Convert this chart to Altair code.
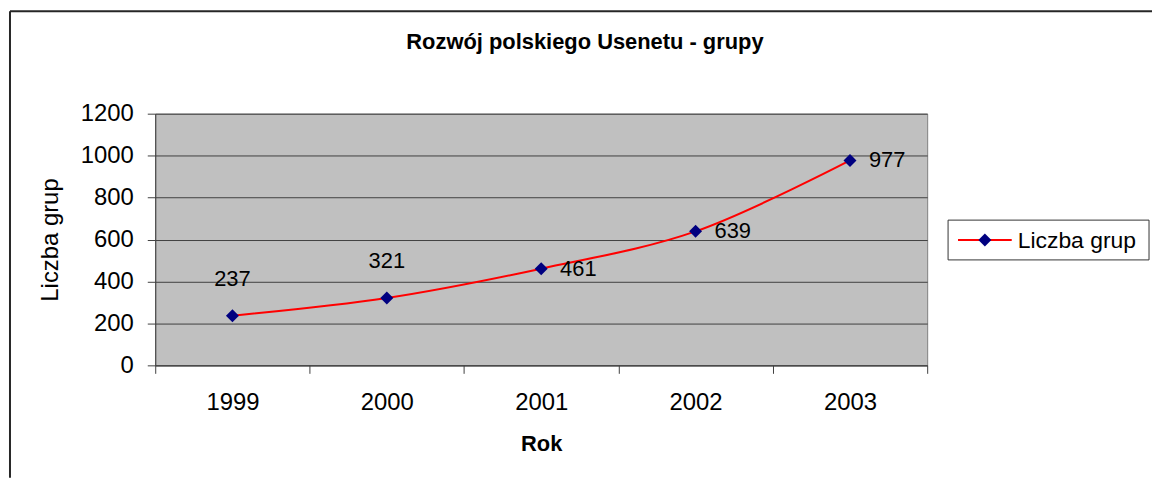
import altair as alt
import pandas as pd

# ---- data ----
years = ["1999", "2000", "2001", "2002", "2003"]
groups = [237, 321, 461, 639, 977]
series_name = "Liczba grup"
series = [series_name] * len(years)
y_ticks = [0, 200, 400, 600, 800, 1000, 1200]
above_years = ["1999", "2000"]
right_years = ["2001", "2002", "2003"]
title_text = "Rozwój polskiego Usenetu - grupy"

df = pd.DataFrame({"Rok": years, "Liczba": groups, "Seria": series})

FONT = "Liberation Sans"
W, H = 776, 253
PAD_L, PAD_T = 148, 105
TOTAL_W, TOTAL_H = 1150, 471
RED = "#FF0000"
NAVY = "#000080"

x = alt.X(
    "Rok:N",
    sort=years,
    scale=alt.Scale(type="band", domain=years, paddingInner=0, paddingOuter=0),
    axis=alt.Axis(
        title="Rok", labelAngle=0, tickBand="extent", tickSize=8, labelPadding=17,
        labelFont=FONT, labelFontSize=24, labelColor="black",
        titleFont=FONT, titleFontSize=22, titleFontWeight="bold", titleColor="black",
        titlePadding=20, domainColor="#404040", tickColor="#404040", grid=False,
    ),
)
y = alt.Y(
    "Liczba:Q",
    scale=alt.Scale(domain=[0, 1200], nice=False),
    axis=alt.Axis(
        title="Liczba grup", values=y_ticks, format="d", tickSize=8, labelPadding=14,
        labelFont=FONT, labelFontSize=24, labelColor="black",
        titleFont=FONT, titleFontSize=24, titleFontWeight="normal", titleColor="black",
        titlePadding=18, domainColor="#404040", tickColor="#404040",
        grid=True, gridColor="#404040", gridWidth=1,
    ),
)

line = alt.Chart(df).mark_line(strokeWidth=2, interpolate="catmull-rom", color=RED).encode(x=x, y=y)

points = alt.Chart(df).mark_point(
    shape="diamond", filled=True, size=170, opacity=1, color=NAVY
).encode(x=x, y=y)

labels_above = alt.Chart(df).transform_filter(
    alt.FieldOneOfPredicate(field="Rok", oneOf=above_years)
).mark_text(dy=-37, align="center", baseline="middle", font=FONT, fontSize=22, color="black").encode(
    x=x, y=y, text="Liczba:Q"
)
labels_right = alt.Chart(df).transform_filter(
    alt.FieldOneOfPredicate(field="Rok", oneOf=right_years)
).mark_text(dx=19, align="left", baseline="middle", font=FONT, fontSize=22, color="black").encode(
    x=x, y=y, text="Liczba:Q"
)

one = alt.Data(values=[{"k": 1}])

# outer chart frame
frame_v = alt.Chart(one).mark_rule(color="#262626", strokeWidth=2).encode(
    x=alt.value(-146), y=alt.value(-103), y2=alt.value(TOTAL_H - PAD_T)
)
frame_h = alt.Chart(one).mark_rule(color="#262626", strokeWidth=2).encode(
    x=alt.value(-146), x2=alt.value(TOTAL_W - PAD_L), y=alt.value(-103)
)

# chart title
title = alt.Chart(one).mark_text(
    text=title_text, font=FONT, fontSize=22, fontWeight="bold", color="black",
    align="center", baseline="alphabetic",
).encode(x=alt.value(432), y=alt.value(-65))

# legend box (line + diamond + label)
leg_box = alt.Chart(one).mark_rect(fill="white", stroke="#333333", strokeWidth=1).encode(
    x=alt.value(797), x2=alt.value(999), y=alt.value(107), y2=alt.value(147)
)
leg_line = alt.Chart(one).mark_rule(color=RED, strokeWidth=2).encode(
    x=alt.value(807), x2=alt.value(861), y=alt.value(127)
)
leg_pt = alt.Chart(one).mark_point(shape="diamond", filled=True, size=170, opacity=1, color=NAVY).encode(
    x=alt.value(834), y=alt.value(127)
)
leg_txt = alt.Chart(one).mark_text(
    text=series_name, font=FONT, fontSize=23, color="black", align="left", baseline="middle"
).encode(x=alt.value(867), y=alt.value(128))

chart = alt.layer(
    frame_v, frame_h, title, line, points, labels_above, labels_right,
    leg_box, leg_line, leg_pt, leg_txt,
).properties(
    width=W, height=H,
    autosize=alt.AutoSizeParams(type="none"),
    padding={"left": PAD_L, "top": PAD_T, "right": TOTAL_W - PAD_L - W, "bottom": TOTAL_H - PAD_T - H},
    background="white",
).configure_view(fill="#C0C0C0", stroke="#808080", strokeWidth=1)

chart.save("out.html", embed_options={"renderer": "svg", "actions": False})
